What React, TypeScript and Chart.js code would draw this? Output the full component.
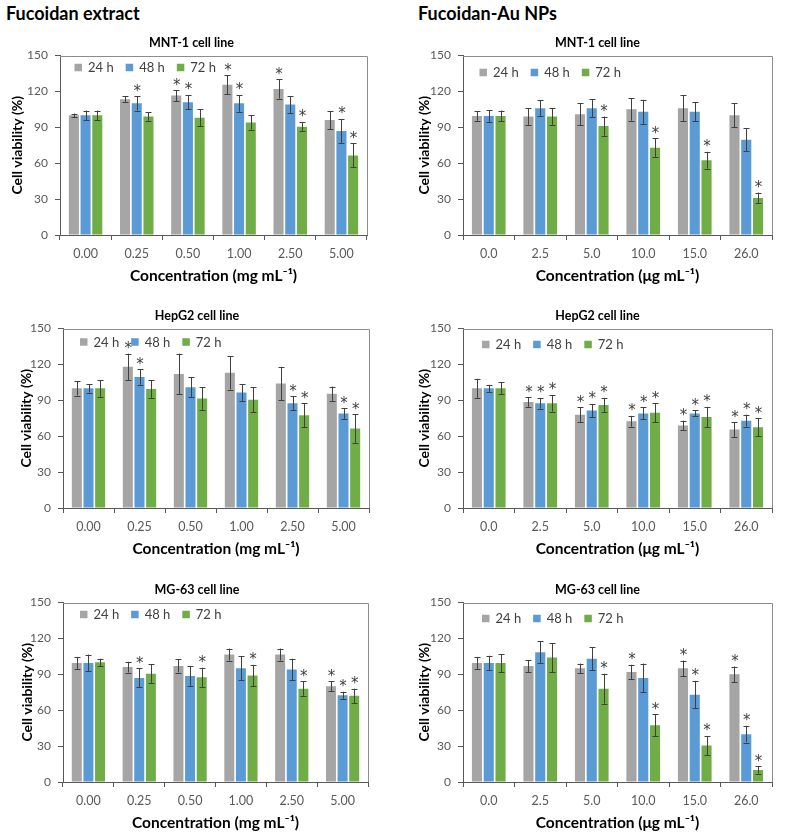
import React, { useEffect, useRef } from 'react';
import { Chart, registerables } from 'chart.js';

Chart.register(...registerables);

// ---------- data ----------
const seriesLabels = ['24 h', '48 h', '72 h'];
const seriesColors = ['#a5a5a5', '#5b9bd5', '#70ad47'];
const extractConc = ['0.00', '0.25', '0.50', '1.00', '2.50', '5.00'];
const auConc = ['0.0', '2.5', '5.0', '10.0', '15.0', '26.0'];
const yTicks = [0, 30, 60, 90, 120, 150];

// Fucoidan extract – MNT-1
const mntExtractMean = [
  [100, 113.5, 116.5, 125.5, 122, 96],
  [100, 110, 111, 110, 109, 87],
  [100, 99, 98, 94, 90.5, 66.5],
];
const mntExtractSd = [
  [1.5, 2.5, 4.5, 8, 8, 7.5],
  [4, 6, 6, 7, 7, 10],
  [4, 3.5, 7, 6, 4, 10],
];
const mntExtractSig = [
  [0, 0, 1, 1, 1, 0],
  [0, 1, 1, 1, 0, 1],
  [0, 0, 0, 0, 1, 1],
];

// Fucoidan-Au NPs – MNT-1
const mntAuMean = [
  [99.5, 99, 101, 105, 106, 100],
  [99.5, 106, 106, 103, 103, 79.5],
  [99.5, 99, 91, 73, 62.5, 31],
];
const mntAuSd = [
  [4, 7, 9, 9.5, 11, 10],
  [5, 6.5, 7.5, 10, 8, 9.5],
  [4.5, 7, 8, 8, 7, 4.5],
];
const mntAuSig = [
  [0, 0, 0, 0, 0, 0],
  [0, 0, 0, 0, 0, 0],
  [0, 0, 1, 1, 1, 1],
];

// Fucoidan extract – HepG2
const hepExtractMean = [
  [100, 118, 112, 113, 104, 95.5],
  [100, 109.5, 101, 96.5, 87.5, 79],
  [100, 99.5, 91.5, 90.5, 77.5, 66.5],
];
const hepExtractSd = [
  [6, 11, 17, 14, 14, 6],
  [3.5, 6.5, 8.5, 7, 6, 4.5],
  [7, 7.5, 9.5, 10.5, 10, 12],
];
const hepExtractSig = [
  [0, 1, 0, 0, 0, 0],
  [0, 1, 0, 0, 1, 1],
  [0, 0, 0, 0, 1, 1],
];

// Fucoidan-Au NPs – HepG2
const hepAuMean = [
  [100, 88.5, 78, 72.5, 69, 65.5],
  [100, 87.5, 81.5, 79, 79, 73],
  [100, 87.5, 86, 79.5, 76, 67.5],
];
const hepAuSd = [
  [8, 4, 6, 4.5, 4, 6],
  [3, 4.5, 5.5, 5, 2.5, 5],
  [5, 7, 6, 8, 8.5, 7.5],
];
const hepAuSig = [
  [0, 1, 1, 1, 1, 1],
  [0, 1, 1, 1, 1, 1],
  [0, 1, 1, 1, 1, 1],
];

// Fucoidan extract – MG-63
const mgExtractMean = [
  [99.5, 96, 97, 106.5, 106.5, 80],
  [99.5, 87, 88.5, 95, 94, 72.5],
  [100, 90.5, 87.5, 89, 78, 72],
];
const mgExtractSd = [
  [5, 4.5, 5.5, 5, 5, 4],
  [7, 8, 8.5, 10, 9, 3],
  [3, 8, 8, 9, 6, 6],
];
const mgExtractSig = [
  [0, 0, 0, 0, 0, 1],
  [0, 1, 0, 0, 0, 1],
  [0, 0, 1, 1, 1, 1],
];

// Fucoidan-Au NPs – MG-63
const mgAuMean = [
  [99.5, 97, 95, 92, 95, 90],
  [99.5, 108.5, 103, 87, 73, 40],
  [99.5, 104, 78, 47.5, 30.5, 10],
];
const mgAuSd = [
  [5, 5, 4, 6, 6.5, 6.5],
  [6, 9, 9.5, 12, 11.5, 7],
  [7.5, 12, 12.5, 9, 8, 3],
];
const mgAuSig = [
  [0, 0, 0, 1, 1, 1],
  [0, 0, 0, 0, 1, 1],
  [0, 0, 1, 1, 1, 1],
];

const extractXTitle = 'Concentration (mg mL⁻¹)';
const auXTitle = 'Concentration (μg mL⁻¹)';

// ---------- layout ----------
type Layout = {
  axisLeft: number; chartLeft: number; chartRight: number; chartTop: number;
  legendDx: number; legendDy: number;
};

type PanelDef = {
  title: string; conc: string[]; xTitle: string;
  mean: number[][]; sd: number[][]; sig: number[][];
  layout: Layout;
};

const panels: PanelDef[] = [
  { title: 'MNT-1 cell line', conc: extractConc, xTitle: extractXTitle, mean: mntExtractMean, sd: mntExtractSd, sig: mntExtractSig,
    layout: { axisLeft: 16, chartLeft: 60, chartRight: 367, chartTop: 55, legendDx: 14.5, legendDy: 12 } },
  { title: 'MNT-1 cell line', conc: auConc, xTitle: auXTitle, mean: mntAuMean, sd: mntAuSd, sig: mntAuSig,
    layout: { axisLeft: 423, chartLeft: 463, chartRight: 772, chartTop: 55, legendDx: 16.5, legendDy: 17 } },
  { title: 'HepG2 cell line', conc: extractConc, xTitle: extractXTitle, mean: hepExtractMean, sd: hepExtractSd, sig: hepExtractSig,
    layout: { axisLeft: 25, chartLeft: 63, chartRight: 369, chartTop: 328, legendDx: 17, legendDy: 13.5 } },
  { title: 'HepG2 cell line', conc: auConc, xTitle: auXTitle, mean: hepAuMean, sd: hepAuSd, sig: hepAuSig,
    layout: { axisLeft: 423, chartLeft: 463, chartRight: 772, chartTop: 328, legendDx: 19, legendDy: 16 } },
  { title: 'MG-63 cell line', conc: extractConc, xTitle: extractXTitle, mean: mgExtractMean, sd: mgExtractSd, sig: mgExtractSig,
    layout: { axisLeft: 26, chartLeft: 63, chartRight: 368, chartTop: 602, legendDx: 17, legendDy: 12 } },
  { title: 'MG-63 cell line', conc: auConc, xTitle: auXTitle, mean: mgAuMean, sd: mgAuSd, sig: mgAuSig,
    layout: { axisLeft: 423, chartLeft: 463, chartRight: 772, chartTop: 602, legendDx: 19, legendDy: 16 } },
];

const FONT = 'Lato, "Open Sans", sans-serif';
const STAR_FONT = '15px "DejaVu Sans", sans-serif';
const PLOT_H = 180;
const TITLE_SIZE = 12.5;
const TITLE_PAD = 6;
const X_AXIS_H = 52;
const RIGHT_PAD = 10;
const LEFT_PAD = 12;
const AXIS_COLOR = '#595959';

// ---------- plugins ----------
const framePlugin = {
  id: 'plotFrame',
  beforeDatasetsDraw(chart: any) {
    const { ctx, chartArea: a } = chart;
    ctx.save();
    ctx.strokeStyle = '#8c8c8c';
    ctx.lineWidth = 1;
    const r = Math.round(a.right) + 0.5;
    const t = Math.round(a.top) + 0.5;
    ctx.beginPath();
    ctx.moveTo(a.left, t);
    ctx.lineTo(r, t);
    ctx.lineTo(r, a.bottom);
    ctx.stroke();
    ctx.restore();
  },
};

const errorBarPlugin = {
  id: 'errorBars',
  afterDatasetsDraw(chart: any, _args: any, opts: any) {
    const { ctx } = chart;
    const yScale = chart.scales.y;
    ctx.save();
    chart.data.datasets.forEach((ds: any, i: number) => {
      const meta = chart.getDatasetMeta(i);
      meta.data.forEach((bar: any, j: number) => {
        const v = ds.data[j];
        const e = opts.sd[i][j];
        const x = Math.round(bar.x) + 0.5;
        const yt = yScale.getPixelForValue(v + e);
        const yb = yScale.getPixelForValue(v - e);
        ctx.strokeStyle = '#404040';
        ctx.lineWidth = 1;
        ctx.beginPath();
        ctx.moveTo(x, yt);
        ctx.lineTo(x, yb);
        ctx.moveTo(x - 3, Math.round(yt) + 0.5);
        ctx.lineTo(x + 3, Math.round(yt) + 0.5);
        ctx.moveTo(x - 3, Math.round(yb) + 0.5);
        ctx.lineTo(x + 3, Math.round(yb) + 0.5);
        ctx.stroke();
        if (opts.sig[i][j]) {
          ctx.fillStyle = '#404040';
          ctx.font = STAR_FONT;
          ctx.textAlign = 'center';
          ctx.textBaseline = 'alphabetic';
          ctx.fillText('*', bar.x + 0.5, yt - 0.5);
        }
      });
    });
    ctx.restore();
  },
};

const insideLegendPlugin = {
  id: 'insideLegend',
  afterDraw(chart: any, _args: any, opts: any) {
    const { ctx, chartArea: a } = chart;
    ctx.save();
    ctx.font = `13px ${FONT}`;
    ctx.textAlign = 'left';
    ctx.textBaseline = 'middle';
    let x = a.left + opts.dx;
    const cy = a.top + opts.dy;
    chart.data.datasets.forEach((ds: any) => {
      ctx.fillStyle = ds.backgroundColor;
      ctx.fillRect(x, cy - 3.75, 7.5, 7.5);
      ctx.fillStyle = '#404040';
      ctx.fillText(ds.label, x + 13.5, cy + 0.5);
      x += 13.5 + ctx.measureText(ds.label).width + 12;
    });
    ctx.restore();
  },
};

// ---------- components ----------
function Panel({ def }: { def: PanelDef }) {
  const ref = useRef<HTMLCanvasElement | null>(null);
  const L = def.layout;
  const canvasX = L.axisLeft - LEFT_PAD;
  const canvasY = L.chartTop - TITLE_SIZE - TITLE_PAD;
  const width = L.chartRight + RIGHT_PAD - canvasX;
  const height = TITLE_SIZE + TITLE_PAD + PLOT_H + X_AXIS_H;
  const yAxisW = L.chartLeft - L.axisLeft;

  useEffect(() => {
    if (!ref.current) return;
    const chart = new Chart(ref.current, {
      type: 'bar',
      data: {
        labels: def.conc,
        datasets: seriesLabels.map((label, i) => ({
          label,
          data: def.mean[i],
          backgroundColor: seriesColors[i],
          borderWidth: 0,
          categoryPercentage: 0.686,
          barPercentage: 0.86,
        })),
      },
      options: {
        animation: false,
        responsive: false,
        devicePixelRatio: 1,
        layout: { padding: { left: LEFT_PAD, right: RIGHT_PAD, top: 0, bottom: 0 } },
        plugins: {
          legend: { display: false },
          tooltip: { enabled: false },
          title: {
            display: true,
            text: def.title,
            color: '#000',
            font: { family: FONT, size: TITLE_SIZE, weight: 'bold', lineHeight: 1 },
            padding: { top: 0, bottom: TITLE_PAD },
          },
          errorBars: { sd: def.sd, sig: def.sig },
          insideLegend: { dx: L.legendDx, dy: L.legendDy },
        } as any,
        scales: {
          x: {
            ticks: { font: { family: FONT, size: 12.5 }, color: AXIS_COLOR, padding: 6 },
            grid: { drawOnChartArea: false, drawTicks: true, tickLength: 5, color: AXIS_COLOR, offset: true },
            border: { color: AXIS_COLOR },
            title: {
              display: true,
              text: def.xTitle,
              color: '#000',
              font: { family: FONT, size: 15.5, weight: 'bold', lineHeight: 1 },
              padding: { top: 0, bottom: 3 },
            },
            afterFit: (s: any) => { s.height = X_AXIS_H; },
          },
          y: {
            min: 0,
            max: 150,
            afterBuildTicks: (s: any) => { s.ticks = yTicks.map((v) => ({ value: v })); },
            ticks: { font: { family: FONT, size: 12 }, color: AXIS_COLOR, padding: 7 },
            grid: { drawOnChartArea: false, drawTicks: true, tickLength: 5, color: AXIS_COLOR },
            border: { color: AXIS_COLOR },
            title: {
              display: true,
              text: 'Cell viability (%)',
              color: '#000',
              font: { family: FONT, size: 14, weight: 'bold', lineHeight: 1 },
              padding: { top: -6, bottom: 0 },
            },
            afterFit: (s: any) => { s.width = yAxisW; },
          },
        },
      },
      plugins: [framePlugin, errorBarPlugin, insideLegendPlugin],
    });
    return () => chart.destroy();
  }, []);

  return (
    <canvas
      ref={ref}
      width={width}
      height={height}
      style={{ position: 'absolute', left: canvasX, top: canvasY, width, height }}
    />
  );
}

export default function App() {
  const heading: React.CSSProperties = {
    position: 'absolute',
    top: 4,
    fontFamily: FONT,
    fontWeight: 700,
    fontSize: 18,
    lineHeight: 1,
    color: '#000',
    whiteSpace: 'nowrap',
  };
  return (
    <div style={{ position: 'absolute', left: 0, top: 0, width: 786, height: 840, background: '#fff', overflow: 'hidden' }}>
      <div style={{ ...heading, left: 6 }}>Fucoidan extract</div>
      <div style={{ ...heading, left: 418 }}>Fucoidan-Au NPs</div>
      {panels.map((p, i) => (
        <Panel key={i} def={p} />
      ))}
    </div>
  );
}
